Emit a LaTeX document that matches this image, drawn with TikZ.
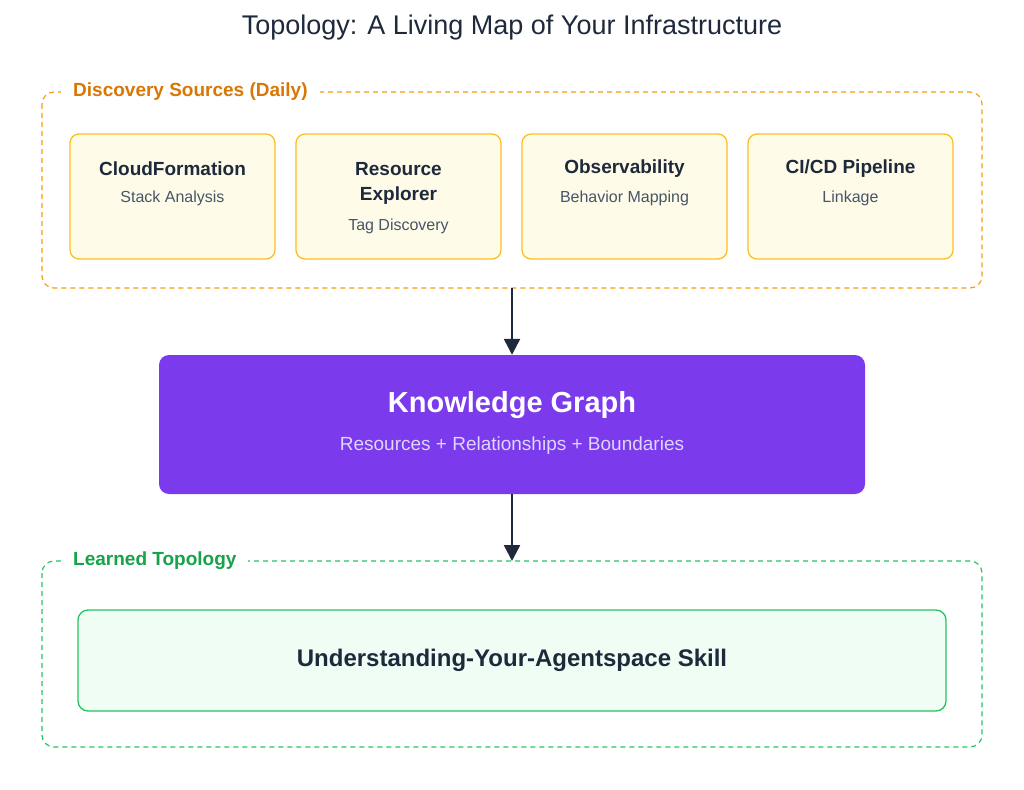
\documentclass[tikz,border=0pt]{standalone}
\usepackage{fontspec}
\setmainfont{Liberation Sans}
\usetikzlibrary{arrows.meta}
\definecolor{dark}{HTML}{1E293B}
\definecolor{sub}{HTML}{475569}
\definecolor{orgline}{HTML}{F59E0B}
\definecolor{orgtext}{HTML}{D97706}
\definecolor{yfill}{HTML}{FEFCE8}
\definecolor{yline}{HTML}{FBBF24}
\definecolor{purp}{HTML}{7C3AED}
\definecolor{lpurp}{HTML}{DDD6FE}
\definecolor{gline}{HTML}{22C55E}
\definecolor{gtext}{HTML}{16A34A}
\definecolor{gfill}{HTML}{F0FDF4}
\tikzset{
 group/.style={draw, dashed, line width=1.2pt, rounded corners=12pt, dash pattern=on 5pt off 4pt},
 glabel/.style={fill=white, inner xsep=12pt, font=\fontsize{19}{22}\selectfont\bfseries, anchor=west},
 src/.style={draw=yline, fill=yfill, line width=1.3pt, rounded corners=9pt, minimum width=205pt, minimum height=125pt},
 ttl/.style={text=dark, font=\fontsize{19}{25}\selectfont\bfseries, align=center},
 subt/.style={text=sub, font=\fontsize{16}{19}\selectfont},
 arr/.style={draw=dark, line width=2.5pt, -{Triangle[length=16pt,width=16pt]}}
}
\begin{document}
\begin{tikzpicture}[x=1pt,y=-1pt]
\useasboundingbox (0,0) rectangle (1024,789);
\node[text=dark, font=\fontsize{27}{30}\selectfont] (title) at (512,28) {Topology: A Living Map of Your Infrastructure};
% discovery group
\draw[group, orgline] (42,92) rectangle (982,288);
\node[glabel, text=orgtext] (dl) at (61,92) {Discovery Sources (Daily)};
\node[src] (b1) at (172.5,196.5) {};
\node[src] (b2) at (398.5,196.5) {};
\node[src] (b3) at (624.5,196.5) {};
\node[src] (b4) at (850.5,196.5) {};
\node[ttl] (t1) at (172.5,169) {CloudFormation};
\node[subt] (s1) at (172.5,198) {Stack Analysis};
\node[ttl] (t2) at (398.5,183) {Resource\\Explorer};
\node[subt] (s2) at (398.5,226) {Tag Discovery};
\node[ttl] (t3) at (624.5,169) {Observability};
\node[subt] (s3) at (624.5,198) {Behavior Mapping};
\node[ttl] (t4) at (850.5,169) {CI/CD Pipeline};
\node[subt] (s4) at (850.5,198) {Linkage};
\coordinate (g1b) at (512,288);
% knowledge graph
\node[fill=purp, rounded corners=10pt, minimum width=706pt, minimum height=139pt] (kg) at (512,424.5) {};
\node[text=white, font=\fontsize{29}{32}\selectfont\bfseries] (kgt) at (512,405) {Knowledge Graph};
\node[text=lpurp, font=\fontsize{19}{22}\selectfont] (kgs) at (512,446) {Resources + Relationships + Boundaries};
\draw[arr] (g1b) -- (kg.north);
% learned
\draw[group, gline] (42,561) rectangle (982,747);
\node[glabel, text=gtext] (ll) at (61,561) {Learned Topology};
\coordinate (g2t) at (512,561);
\draw[arr] (kg.south) -- (g2t);
\node[draw=gline, fill=gfill, line width=1.3pt, rounded corners=10pt, minimum width=868pt, minimum height=101pt, text=dark, font=\fontsize{24}{28}\selectfont\bfseries] (sk) at (512,660.5) {Understanding-Your-Agentspace Skill};
\end{tikzpicture}
\end{document}
